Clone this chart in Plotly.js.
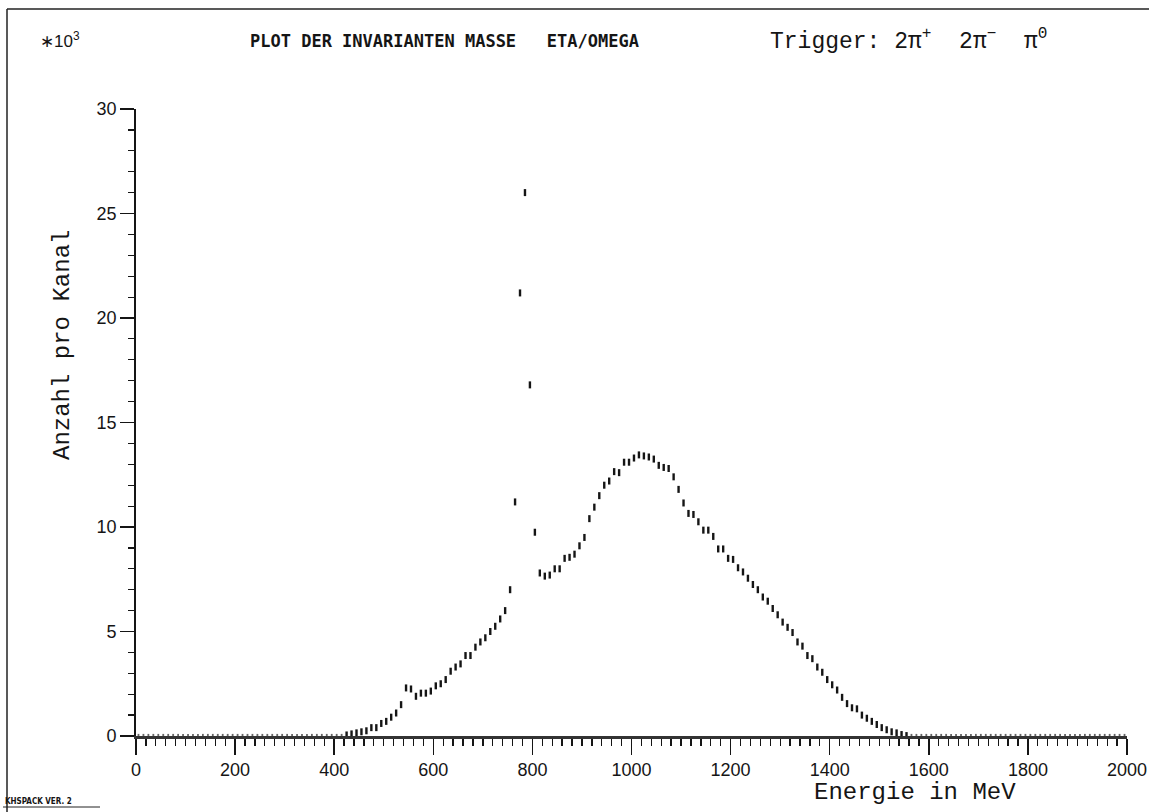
<!DOCTYPE html>
<html>
<head>
<meta charset="utf-8">
<script src="https://cdn.plot.ly/plotly-3.0.1.min.js"></script>
<style>html,body{margin:0;padding:0;background:#fff;}#chart{width:1149px;height:812px;}</style>
</head>
<body>
<div id="chart"></div>
<script>
// Bin centres (MeV), 10 MeV channels
const energy = [
  5,15,25,35,45,55,65,75,85,95,105,115,125,135,145,155,165,175,185,195,
  205,215,225,235,245,255,265,275,285,295,305,315,325,335,345,355,365,375,385,395,
  405,415,425,435,445,455,465,475,485,495,505,515,525,535,545,555,565,575,585,595,
  605,615,625,635,645,655,665,675,685,695,705,715,725,735,745,755,765,775,785,795,
  805,815,825,835,845,855,865,875,885,895,905,915,925,935,945,955,965,975,985,995,
  1005,1015,1025,1035,1045,1055,1065,1075,1085,1095,1105,1115,1125,1135,1145,1155,1165,1175,1185,1195,
  1205,1215,1225,1235,1245,1255,1265,1275,1285,1295,1305,1315,1325,1335,1345,1355,1365,1375,1385,1395,
  1405,1415,1425,1435,1445,1455,1465,1475,1485,1495,1505,1515,1525,1535,1545,1555,1565,1575,1585,1595,
  1605,1615,1625,1635,1645,1655,1665,1675,1685,1695,1705,1715,1725,1735,1745,1755,1765,1775,1785,1795,
  1805,1815,1825,1835,1845,1855,1865,1875,1885,1895,1905,1915,1925,1935,1945,1955,1965,1975,1985,1995
];
// Counts per channel (x10^3)
const counts = [
  0,0,0,0,0,0,0,0,0,0,0,0,0,0,0,0,0,0,0,0,
  0,0,0,0,0,0,0,0,0,0,0,0,0,0,0,0,0,0,0,0,
  0,0,0.05,0.1,0.15,0.2,0.25,0.4,0.4,0.6,0.7,0.9,1.1,1.5,2.3,2.25,1.9,2.05,2.05,2.15,
  2.4,2.5,2.7,3.1,3.3,3.45,3.85,3.85,4.25,4.5,4.7,5.0,5.25,5.6,6.0,7.0,11.2,21.2,26.0,16.8,
  9.75,7.8,7.65,7.7,8.0,8.0,8.5,8.55,8.7,9.1,9.5,10.4,10.95,11.5,12.0,12.2,12.65,12.6,13.1,13.1,
  13.3,13.45,13.4,13.35,13.25,12.95,12.85,12.8,12.4,11.8,11.15,10.65,10.6,10.25,9.85,9.85,9.55,8.95,8.95,8.5,
  8.45,8.05,7.85,7.55,7.25,7.0,6.65,6.45,6.1,5.8,5.45,5.2,4.95,4.5,4.3,3.85,3.7,3.3,3.05,2.7,
  2.45,2.2,1.85,1.55,1.35,1.3,1.0,0.85,0.7,0.55,0.4,0.3,0.2,0.15,0.07,0.02,0,0,0,0,
  0,0,0,0,0,0,0,0,0,0,0,0,0,0,0,0,0,0,0,0,
  0,0,0,0,0,0,0,0,0,0,0,0,0,0,0,0,0,0,0,0
];
const xTickVals = [0,200,400,600,800,1000,1200,1400,1600,1800,2000];
const xTickText = ['0','200','400','600','800','1000','1200','1400','1600','1800','2000'];
const yTickVals = [0,5,10,15,20,25,30];
const yTickText = ['0','5','10','15','20','25','30'];

const ink = '#151515';
const nzX = [], nzY = [], zX = [], zY = [];
energy.forEach((e, i) => {
  if (counts[i] > 0) { nzX.push(e); nzY.push(counts[i]); }
  else { zX.push(e); zY.push(counts[i]); }
});

const traces = [
  {x: zX, y: zY, type: 'scatter', mode: 'markers', cliponaxis: false, hoverinfo: 'skip',
   marker: {symbol: 'line-ns', size: 3, line: {width: 1.8, color: '#666'}}},
  {x: nzX, y: nzY, type: 'scatter', mode: 'markers', cliponaxis: false,
   marker: {symbol: 'line-ns', size: 5, line: {width: 2.4, color: ink}}}
];

const L = 136, R = 22, T = 109, B = 76, W = 1149, H = 812;
const pw = W - L - R, ph = H - T - B;
const px = v => (v - L) / pw;
const py = v => (H - B - v) / ph;

const layout = {
  width: W, height: H,
  margin: {l: L, r: R, t: T, b: B, pad: 0},
  paper_bgcolor: '#fff', plot_bgcolor: '#fff',
  showlegend: false,
  font: {family: 'Liberation Sans, Arial, sans-serif', color: ink},
  xaxis: {
    range: [0, 2000], tickvals: xTickVals, ticktext: xTickText,
    ticks: 'outside', ticklen: 16, tickwidth: 1.5, tickcolor: ink,
    showline: true, linewidth: 2.5, linecolor: '#333',
    showgrid: false, zeroline: false, fixedrange: true,
    tickfont: {family: 'Liberation Sans, Arial, sans-serif', size: 18, color: ink},
    minor: {dtick: 20, tick0: 0, ticks: 'outside', ticklen: 7, tickwidth: 1.3, tickcolor: ink, showgrid: false}
  },
  yaxis: {
    range: [0, 30], tickvals: yTickVals, ticktext: yTickText,
    ticks: 'outside', ticklen: 14, tickwidth: 1.5, tickcolor: ink,
    showline: true, linewidth: 1.8, linecolor: ink,
    showgrid: false, zeroline: false, fixedrange: true,
    tickfont: {family: 'Liberation Sans, Arial, sans-serif', size: 18, color: ink},
    minor: {dtick: 1, tick0: 0, ticks: 'outside', ticklen: 6, tickwidth: 1.2, tickcolor: ink, showgrid: false}
  },
  annotations: [
    {xref: 'paper', yref: 'paper', x: px(38), y: py(40), xanchor: 'left', yanchor: 'middle',
     text: '∗10<sup>3</sup>', showarrow: false,
     font: {family: 'Liberation Sans, Arial, sans-serif', size: 17, color: ink}},
    {xref: 'paper', yref: 'paper', x: px(248), y: py(41), xanchor: 'left', yanchor: 'middle',
     text: '<b>PLOT DER INVARIANTEN MASSE   ETA/OMEGA</b>', showarrow: false,
     font: {family: 'DejaVu Sans Mono, monospace', size: 17, color: ink}},
    {xref: 'paper', yref: 'paper', x: px(768), y: py(40), xanchor: 'left', yanchor: 'middle',
     text: 'Trigger: 2π<sup>+</sup>\u00a0\u00a02π<sup>−</sup>\u00a0\u00a0π<sup>0</sup>', showarrow: false,
     font: {family: 'Liberation Mono, Courier New, monospace', size: 23, color: ink}},
    {xref: 'paper', yref: 'paper', x: px(62), y: py(345), xanchor: 'center', yanchor: 'middle',
     text: 'Anzahl pro Kanal', textangle: -90, showarrow: false,
     font: {family: 'Liberation Mono, Courier New, monospace', size: 24, color: ink}},
    {xref: 'paper', yref: 'paper', x: px(915), y: py(792), xanchor: 'center', yanchor: 'middle',
     text: 'Energie in MeV', showarrow: false,
     font: {family: 'Liberation Mono, Courier New, monospace', size: 24, color: ink}},
    {xref: 'paper', yref: 'paper', x: px(3), y: py(801), xanchor: 'left', yanchor: 'middle',
     text: '<b>KHSPACK VER. 2</b>', showarrow: false,
     font: {family: 'DejaVu Sans Condensed, sans-serif', size: 8, color: ink}}
  ],
  shapes: [
    {type: 'line', xref: 'paper', yref: 'paper', x0: px(7), x1: px(7), y0: py(9), y1: py(812), line: {color: '#222', width: 1.5}},
    {type: 'line', xref: 'paper', yref: 'paper', x0: px(7), x1: px(1149), y0: py(9), y1: py(9), line: {color: '#222', width: 1.5}},
    {type: 'line', xref: 'paper', yref: 'paper', x0: px(3), x1: px(100), y0: py(807), y1: py(807), line: {color: '#222', width: 1}}
  ]
};

Plotly.newPlot('chart', traces, layout, {displayModeBar: false, staticPlot: true});
</script>
</body>
</html>
